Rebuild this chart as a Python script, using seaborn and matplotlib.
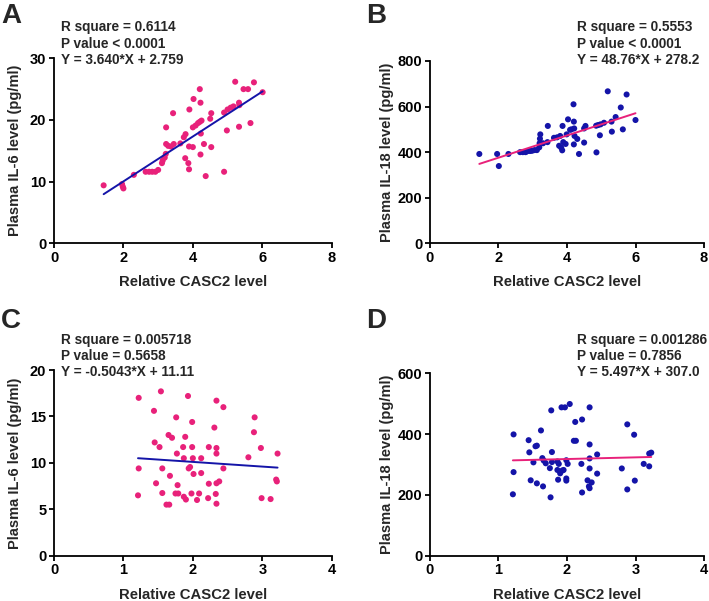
import matplotlib
matplotlib.use("Agg")
import matplotlib.pyplot as plt
import seaborn as sns
import pandas as pd

# ---------------- data ----------------
a_x = [1.43,1.96,1.98,2.0,2.30,2.64,2.74,2.83,2.92,3.0,3.11,3.13,3.19,3.22,3.23,3.23,3.29,3.37,3.43,3.45,
       3.64,3.74,3.79,3.78,3.87,3.89,3.89,3.90,4.0,4.02,4.0,4.08,4.15,4.2,4.25,4.2,4.22,4.23,4.22,4.32,
       4.37,4.53,4.5,4.53,4.9,4.9,4.98,5.0,5.09,5.17,5.22,5.33,5.33,5.34,5.46,5.59,5.66,5.76,6.01]
a_y = [9.4,9.6,9.2,8.9,11.1,11.6,11.6,11.6,11.6,11.9,13.0,13.4,13.9,14.5,18.8,16.1,15.8,15.7,21.1,16.1,
       16.2,17.2,17.7,13.8,13.0,12.0,15.7,21.7,15.6,23.4,18.8,19.1,19.5,19.7,19.9,25.0,22.8,17.8,14.4,16.1,
       10.9,15.6,20.2,21.1,11.6,21.2,18.3,21.7,22.0,22.2,26.2,18.9,22.8,22.4,25.0,25.0,19.5,26.1,24.5]

b_x = [1.44,1.96,2.01,2.29,2.63,2.71,2.79,2.84,2.92,2.98,3.05,3.12,3.19,3.20,3.21,3.22,3.30,3.43,3.44,3.62,
       3.71,3.80,3.77,3.83,3.86,3.87,3.89,3.96,3.99,4.03,4.09,4.13,4.19,4.20,4.21,4.20,4.22,4.30,4.35,4.50,
       4.50,4.54,4.85,4.86,4.91,4.96,4.98,5.08,5.19,5.30,5.31,5.42,5.57,5.63,5.74,6.00]
b_y = [392,392,339,392,400,400,400,404,405,406,409,409,421,439,459,478,439,444,515,463,
       465,471,428,420,408,515,444,436,478,544,498,500,610,534,504,434,471,458,392,442,
       504,515,516,399,519,474,522,529,667,534,490,554,596,500,653,541]

c_x = [1.22,1.22,1.21,1.44,1.45,1.47,1.52,1.54,1.56,1.56,1.62,1.66,1.65,1.67,1.70,1.76,1.77,1.78,1.75,1.79,
       1.86,1.87,1.89,1.87,1.90,1.93,1.94,1.96,1.98,1.99,2.0,1.99,2.01,2.06,2.09,2.12,2.12,2.23,2.23,2.22,
       2.31,2.33,2.34,2.34,2.34,2.34,2.34,2.38,2.44,2.44,2.80,2.88,2.89,2.98,2.99,3.12,3.20,3.21,3.22]
c_y = [17.0,9.4,6.5,15.6,12.2,7.8,11.7,17.7,9.4,6.75,5.5,5.5,13.0,8.6,12.7,14.9,11.0,7.6,6.7,6.7,
       11.7,10.5,12.8,6.35,6.05,17.2,9.4,9.55,6.7,11.7,10.5,14.4,8.8,6.0,6.7,8.9,10.5,11.7,7.75,6.2,
       13.8,6.65,16.7,11.6,11.0,5.6,7.8,8.0,16.0,9.4,10.6,13.3,14.9,11.6,6.2,6.1,8.2,8.0,11.0]

d_x = [1.21,1.22,1.22,1.44,1.45,1.47,1.51,1.54,1.56,1.56,1.62,1.64,1.65,1.66,1.69,1.75,1.76,1.77,1.78,1.78,
       1.86,1.88,1.87,1.86,1.90,1.93,1.95,1.92,1.97,1.99,1.99,1.99,2.01,2.04,2.10,2.13,2.12,2.22,2.21,2.22,
       2.30,2.32,2.33,2.33,2.33,2.33,2.33,2.36,2.44,2.44,2.80,2.88,2.88,2.98,2.99,3.12,3.20,3.23,3.20]
d_y = [202,275,399,380,340,248,307,360,362,238,412,321,228,313,304,288,192,478,341,308,
       310,302,250,282,271,280,282,488,488,314,254,247,302,499,378,378,440,448,302,208,
       248,228,222,488,366,320,287,241,333,270,287,432,218,398,247,302,336,339,294]

slopes = [3.640, 48.76, -0.5043, 5.497]
intercepts = [2.759, 278.2, 11.11, 307.0]
annot = [
    ["R square = 0.6114", "P value < 0.0001", "Y = 3.640*X + 2.759"],
    ["R square = 0.5553", "P value < 0.0001", "Y = 48.76*X + 278.2"],
    ["R square = 0.005718", "P value = 0.5658", "Y = -0.5043*X + 11.11"],
    ["R square = 0.001286", "P value = 0.7856", "Y = 5.497*X + 307.0"],
]
letters = ["A", "B", "C", "D"]
ylabels = ["Plasma IL-6 level (pg/ml)", "Plasma IL-18 level (pg/ml)",
           "Plasma IL-6 level (pg/ml)", "Plasma IL-18 level (pg/ml)"]
xlabel = "Relative CASC2 level"
xticks = [[0, 2, 4, 6, 8], [0, 2, 4, 6, 8], [0, 1, 2, 3, 4], [0, 1, 2, 3, 4]]
yticks = [[0, 10, 20, 30], [0, 200, 400, 600, 800], [0, 5, 10, 15, 20], [0, 200, 400, 600]]

# ---------------- style ----------------
sns.set_style("ticks")
plt.rcParams["font.family"] = ["Liberation Sans", "DejaVu Sans"]
plt.rcParams["font.weight"] = "bold"
plt.rcParams["axes.labelweight"] = "bold"

PINK = "#E8217A"
BLUE = "#1414A8"
dot_colors = [PINK, BLUE, PINK, BLUE]
line_colors = [BLUE, PINK, BLUE, PINK]

W, H = 709, 601
fig = plt.figure(figsize=(W / 100, H / 100), dpi=100)

# axes boxes in pixels: left, right, top, bottom
boxes = [(54, 331.7, 58.3, 243.3), (430, 704, 61, 243.3),
         (54, 331.7, 370, 555.7), (430, 704, 373.3, 555.7)]
ylabel_x_px = [15, 386.7, 15, 386.7]
xlabel_y_px = [282, 282, 595, 595]
text_x_px = [61, 577, 61, 577]
text_base_px = [[31.5, 48, 64.5], [31.5, 48, 64.5], [343.5, 360, 376.5], [343.5, 360, 376.5]]
letter_pos = [(1, 23), (366, 23), (1, 328), (366, 328)]

datasets = [(a_x, a_y), (b_x, b_y), (c_x, c_y), (d_x, d_y)]

for i in range(4):
    l, r, t, b = boxes[i]
    ax = fig.add_axes([l / W, 1 - b / H, (r - l) / W, (b - t) / H])
    x, y = datasets[i]
    df = pd.DataFrame({"x": x, "y": y})
    sns.scatterplot(data=df, x="x", y="y", ax=ax, color=dot_colors[i], s=19,
                    linewidth=0, edgecolor="none", zorder=3)
    xs = [min(x), max(x)]
    line_df = pd.DataFrame({"x": xs, "y": [slopes[i] * v + intercepts[i] for v in xs]})
    sns.lineplot(data=line_df, x="x", y="y", ax=ax, color=line_colors[i], linewidth=1.4, zorder=4)

    ax.set_xlim(xticks[i][0], xticks[i][-1])
    ax.set_ylim(yticks[i][0], yticks[i][-1])
    ax.set_xticks(xticks[i])
    ax.set_yticks(yticks[i])
    sns.despine(ax=ax)
    for sp in ["left", "bottom"]:
        ax.spines[sp].set_linewidth(1.3)
        ax.spines[sp].set_color("black")
    ax.tick_params(axis="both", direction="out", length=3.5, width=1.3, labelsize=10.5,
                   pad=2, colors="black")
    for lab in ax.get_xticklabels() + ax.get_yticklabels():
        lab.set_fontweight("bold")

    ax.set_xlabel(xlabel, fontsize=10.7, fontweight="bold")
    ax.set_ylabel(ylabels[i], fontsize=10.5, fontweight="bold")
    ax.xaxis.label.set_va("center")
    ax.yaxis.label.set_va("center")
    ax.xaxis.set_label_coords(0.5, (b - xlabel_y_px[i]) / (b - t))
    ax.yaxis.set_label_coords((ylabel_x_px[i] - l) / (r - l), 0.5)

    for j, s in enumerate(annot[i]):
        fig.text(text_x_px[i] / W, 1 - text_base_px[i][j] / H, s, fontsize=9.8,
                 fontweight="bold", ha="left", va="baseline")
    lx, ly = letter_pos[i]
    fig.text(lx / W, 1 - ly / H, letters[i], fontsize=20, fontweight="bold",
             ha="left", va="baseline")

fig.savefig("out.png", dpi=100)
